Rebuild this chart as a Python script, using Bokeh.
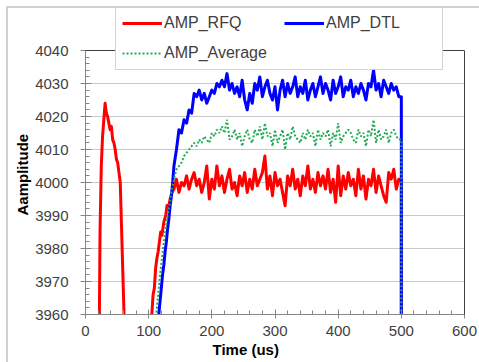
from bokeh.plotting import figure
from bokeh.models import (Legend, LegendItem, Title, SingleIntervalTicker, FixedTicker,
                          Range1d, LinearAxis, Span, InlineStyleSheet)
from bokeh.embed import file_html
from bokeh.resources import INLINE

# ---------------- data ----------------
x_ticks = [0, 100, 200, 300, 400, 500, 600]
y_ticks = [3960, 3970, 3980, 3990, 4000, 4010, 4020, 4030, 4040]

red_t_early = [15, 22, 23, 25, 27, 29, 31, 33, 35, 37, 39, 41, 43, 45, 47, 49, 51, 53, 55, 61, 80,
               105, 107, 109, 111, 113, 115, 117, 119, 121, 124, 127, 129, 131, 134, 137]
red_v_early = [3900, 3960, 3985, 4005, 4014, 4019, 4024, 4021, 4020, 4018, 4016, 4017, 4013, 4012, 4010,
               4007, 4006, 4003, 4000, 3960, 3900,
               3960, 3966, 3968, 3974, 3977, 3979, 3982, 3985, 3984, 3988, 3990, 3993, 3992, 3995, 3997]

blue_t_early = [100, 116, 118, 120, 122, 124, 126, 128, 130, 132, 134, 136, 138]
blue_v_early = [3900, 3960, 3964, 3968, 3972, 3975, 3979, 3982, 3986, 3989, 3993, 3996, 4000]

green_t_early = [100, 112, 115, 118, 121, 124, 127, 130, 133, 136]
green_v_early = [3900, 3960, 3966, 3972, 3977, 3982, 3986, 3990, 3993, 3997]

t_plateau = [140, 144, 148, 152, 156, 160, 164, 168, 172, 176,
             180, 184, 188, 192, 196, 200, 204, 208, 212, 216,
             220, 224, 228, 232, 236, 240, 244, 248, 252, 256,
             260, 264, 268, 272, 276, 280, 284, 288, 292, 296,
             300, 304, 308, 312, 316, 320, 324, 328, 332, 336,
             340, 344, 348, 352, 356, 360, 364, 368, 372, 376,
             380, 384, 388, 392, 396, 400, 404, 408, 412, 416,
             420, 424, 428, 432, 436, 440, 444, 448, 452, 456,
             460, 464, 468, 472, 476, 480, 484, 488, 492, 496]

red_plateau = [3998, 4001, 3997, 4000, 3999, 4002, 3998, 4001, 4003, 3999,
               4001, 3997, 4000, 4005, 3995, 4001, 3998, 4005, 3999, 4002,
               3997, 4001, 4004, 3998, 4000, 3996, 4002, 3999, 4003, 3997,
               4001, 3998, 4004, 3999, 4001, 4003, 4008, 3998, 4002, 3996,
               4003, 3999, 4001, 3997, 3993, 4002, 3999, 4004, 3998, 4001,
               3996, 4002, 3999, 4005, 3998, 4001, 3997, 4003, 3999, 4002,
               3998, 4004, 3997, 4001, 3994, 4005, 3996, 4002, 3998, 4003,
               3999, 4001, 3996, 4004, 3998, 4002, 3995, 4001, 3999, 4004,
               3997, 4002, 3999, 3996, 3994, 4003, 4001, 4004, 3998, 4001]

blue_plateau = [4005, 4010, 4016, 4015, 4019, 4018, 4022, 4021, 4027, 4026,
                4028, 4025, 4027, 4024, 4026, 4028, 4027, 4030, 4029, 4031,
                4029, 4033, 4028, 4030, 4027, 4029, 4026, 4031, 4025, 4022,
                4027, 4024, 4030, 4028, 4032, 4026, 4029, 4031, 4027, 4025,
                4029, 4022, 4028, 4031, 4026, 4030, 4027, 4029, 4032, 4026,
                4029, 4027, 4031, 4025, 4028, 4030, 4026, 4029, 4032, 4027,
                4030, 4028, 4025, 4031, 4027, 4029, 4032, 4026, 4029, 4028,
                4031, 4026, 4029, 4027, 4030, 4028, 4025, 4030, 4029, 4034,
                4028, 4030, 4026, 4031, 4029, 4027, 4030, 4028, 4029, 4026]

green_plateau = [4001, 4004, 4005, 4006, 4008, 4009, 4010, 4011, 4012, 4011,
                 4013, 4012, 4014, 4013, 4012, 4015, 4014, 4016, 4015, 4017,
                 4015, 4019, 4013, 4014, 4016, 4013, 4015, 4011, 4014, 4016,
                 4013, 4012, 4016, 4014, 4017, 4013, 4018, 4014, 4015, 4011,
                 4016, 4012, 4014, 4016, 4010, 4015, 4013, 4017, 4014, 4013,
                 4012, 4015, 4013, 4016, 4014, 4015, 4011, 4016, 4013, 4015,
                 4014, 4016, 4011, 4015, 4013, 4018, 4012, 4014, 4015, 4016,
                 4015, 4013, 4012, 4016, 4014, 4015, 4011, 4016, 4014, 4019,
                 4012, 4016, 4013, 4014, 4016, 4012, 4015, 4016, 4014, 4013]

t_end = [500, 500]
red_end = [4001, 3900]
blue_end = [4026, 3900]
green_end = [4013, 3900]

red_t = red_t_early + t_plateau + t_end
red_v = red_v_early + red_plateau + red_end
blue_t = blue_t_early + t_plateau + t_end
blue_v = blue_v_early + blue_plateau + blue_end
green_t = green_t_early + t_plateau + t_end
green_v = green_v_early + green_plateau + green_end

series_names = ["AMP_RFQ", "AMP_DTL", "AMP_Average"]
x_title = "Time (us)"
y_title = "Aamplitude"

# ---------------- figure ----------------
FONT = "Liberation Sans"
Y_MIN, Y_MAX = 3960, 4040
# frame extends above 4040 so the legend (which overlaps the top) stays inside the frame
Y_TOP = Y_MAX + 42 / 3.3

p = figure(width=479, height=362, x_range=Range1d(0, 600), y_range=Range1d(Y_MIN, Y_TOP),
           output_backend="svg", toolbar_location=None,
           min_border_left=85, min_border_right=15, min_border_top=8, min_border_bottom=48)
p.background_fill_color = "white"
p.border_fill_color = "white"
p.outline_line_color = None

# light chart-area border on the left and top (as in the reference)
p.stylesheets = [InlineStyleSheet(css=":host{position:relative;} :host::after{content:'';position:absolute;"
                                      "left:6px;top:6px;right:0;bottom:0;border-left:2px solid #d0d0d0;"
                                      "border-top:2px solid #d0d0d0;pointer-events:none;}")]

p.xaxis.ticker = SingleIntervalTicker(interval=100, num_minor_ticks=5)
p.yaxis.ticker = SingleIntervalTicker(interval=10, num_minor_ticks=5)
p.yaxis.bounds = (Y_MIN, Y_MAX)
p.xgrid.visible = False
p.ygrid.ticker = FixedTicker(ticks=y_ticks)
p.ygrid.grid_line_color = "#c8c8c8"
p.ygrid.grid_line_width = 1

for ax in (p.xaxis[0], p.yaxis[0]):
    ax.axis_line_color = "#868686"
    ax.major_tick_line_color = "#868686"
    ax.minor_tick_line_color = "#868686"
    ax.major_label_text_font = FONT
    ax.major_label_text_font_size = "15px"
    ax.major_label_text_color = "#404040"
p.xaxis.major_tick_out = 4
p.xaxis.major_tick_in = 5
p.xaxis.minor_tick_out = 0
p.xaxis.minor_tick_in = 4
p.xaxis.major_label_standoff = 7
p.yaxis.major_tick_out = 5
p.yaxis.major_tick_in = 6
p.yaxis.minor_tick_out = 0
p.yaxis.minor_tick_in = 4
p.yaxis.major_label_standoff = 12

# plot-area border (top and right)
right_ax = LinearAxis(bounds=(Y_MIN, Y_MAX), ticker=FixedTicker(ticks=[]),
                      axis_line_color="#3f3f3f", axis_line_width=1)
p.add_layout(right_ax, "right")
p.add_layout(Span(location=Y_MAX, dimension="width", line_color="#3f3f3f", line_width=1))

r_red = p.line(red_t, red_v, line_color="#ff0000", line_width=3, line_join="round")
r_blue = p.line(blue_t, blue_v, line_color="#0000ff", line_width=3, line_join="round")
r_green = p.line(green_t, green_v, line_color="#22aa55", line_width=2, line_dash="2 2")

legend = Legend(items=[LegendItem(label=series_names[0], renderers=[r_red]),
                       LegendItem(label=series_names[1], renderers=[r_blue]),
                       LegendItem(label=series_names[2], renderers=[r_green])],
                location=(30, 244), orientation="horizontal", ncols=2,
                label_text_font=FONT, label_text_font_size="16px", label_text_color="#404040",
                border_line_color="#a6a6a6", border_line_width=1,
                background_fill_color="white", background_fill_alpha=1.0,
                glyph_width=40, glyph_height=20, label_height=20, label_standoff=2,
                spacing=10, padding=6, label_width=110, margin=0)
p.add_layout(legend)

p.add_layout(Title(text=x_title, align="left", offset=127, text_font=FONT, text_font_size="15px",
                   text_font_style="bold", text_color="#000000", standoff=0), "below")
p.add_layout(Title(text=y_title, align="left", offset=99, text_font=FONT, text_font_size="15px",
                   text_font_style="bold", text_color="#000000", standoff=4), "left")

open("out.html", "w").write(file_html(p, INLINE))
